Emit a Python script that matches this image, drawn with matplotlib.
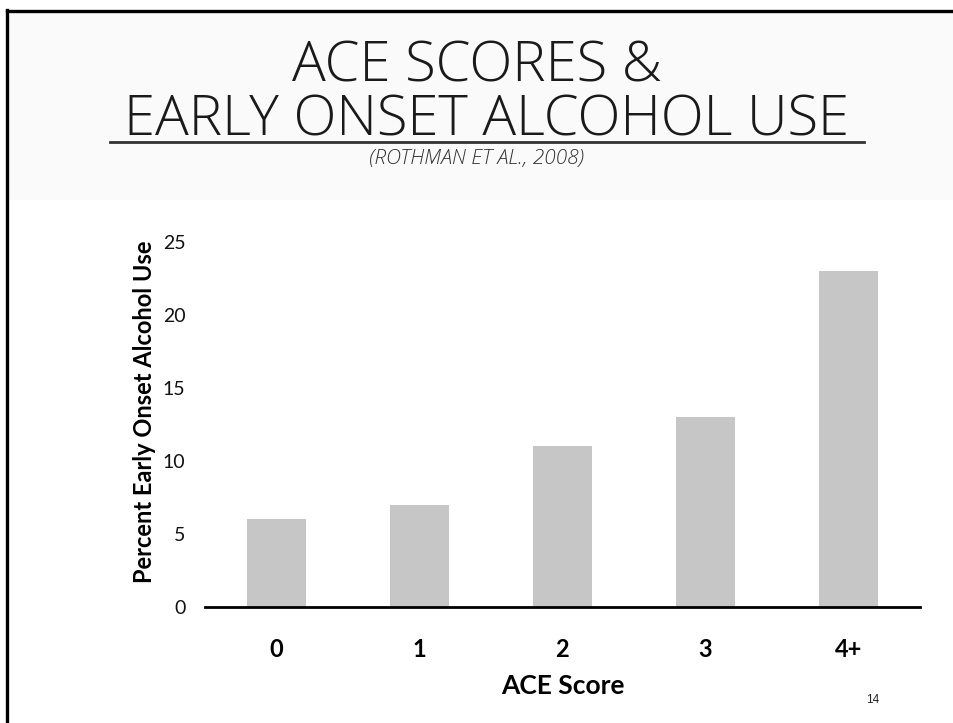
import matplotlib
matplotlib.use("Agg")
import matplotlib.pyplot as plt
from matplotlib.patches import Rectangle
from matplotlib.lines import Line2D

# Data
categories = ["0", "1", "2", "3", "4+"]
percent_early_onset = [6, 7, 11, 13, 23]
y_ticks = [0, 5, 10, 15, 20, 25]

title_line1 = "ACE SCORES &"
title_line2 = "EARLY ONSET ALCOHOL USE"
citation = "(ROTHMAN ET AL., 2008)"

FONT = ["Lato", "DejaVu Sans"]
THIN = ["Open Sans", "Roboto", "DejaVu Sans"]

W, H = 954, 723
fig = plt.figure(figsize=(W / 100, H / 100), dpi=100)
fig.patch.set_facecolor("white")


def fy(py):
    return 1 - py / H


# Slide header band and frame
fig.add_artist(Rectangle((9 / W, fy(200)), 1, 188 / H, transform=fig.transFigure,
                         facecolor="#fafafa", edgecolor="none", zorder=0))
fig.add_artist(Line2D([7.5 / W, 7.5 / W], [0, fy(10)], transform=fig.transFigure,
                      color="black", lw=2.4, solid_capstyle="projecting"))
fig.add_artist(Line2D([7.5 / W, 1], [fy(11), fy(11)], transform=fig.transFigure,
                      color="black", lw=2.4, solid_capstyle="projecting"))

# Titles
fig.text(477 / W, fy(82), title_line1, ha="center", va="baseline", family=THIN,
         fontweight="light", fontsize=40.5, color="#1a1a1a")
fig.text(487 / W, fy(135), title_line2, ha="center", va="baseline", family=THIN,
         fontweight="light", fontsize=40.5, color="#1a1a1a")
fig.add_artist(Line2D([110 / W, 864 / W], [fy(141.5), fy(141.5)], transform=fig.transFigure,
                      color="#333333", lw=2.0))
fig.text(477 / W, fy(164), citation, ha="center", va="baseline", family=THIN,
         fontstyle="italic", fontweight="light", fontsize=15, color="#333333")

# Chart
ax = fig.add_axes([205 / W, fy(607), 715 / W, 365 / H])
x = range(len(categories))
ax.bar(x, percent_early_onset, width=0.41, color="#c6c6c6", zorder=2)
ax.set_xlim(-0.5, len(categories) - 0.5)
ax.set_ylim(0, 25)
ax.set_yticks(y_ticks)
ax.set_xticks(list(x))
ax.set_xticklabels(categories)
for s in ["top", "right", "left"]:
    ax.spines[s].set_visible(False)
ax.spines["bottom"].set_linewidth(2)
ax.spines["bottom"].set_color("black")
ax.spines["bottom"].set_zorder(3)
ax.tick_params(axis="both", length=0)
ax.tick_params(axis="y", pad=14)
ax.tick_params(axis="x", pad=22)
for lab in ax.get_yticklabels():
    lab.set_family(FONT)
    lab.set_fontsize(14)
    lab.set_color("#111111")
for lab in ax.get_xticklabels():
    lab.set_family(FONT)
    lab.set_fontsize(17)
    lab.set_fontweight("bold")
    lab.set_color("black")
ax.set_xlabel("ACE Score", family=FONT, fontsize=19, fontweight="bold", labelpad=10)
ax.set_ylabel("Percent Early Onset Alcohol Use", family=FONT, fontsize=17,
              fontweight="bold")
ax.yaxis.set_label_coords((145 - 205) / 715, (607 - 411.5) / 365)
ax.yaxis.label.set_verticalalignment("center")
ax.patch.set_alpha(0)

# Slide number
fig.text(873 / W, fy(700), "14", ha="center", va="center", family=["Liberation Sans"],
         fontsize=8.5, color="#222222")

fig.savefig("out.png", dpi=100, facecolor="white")
